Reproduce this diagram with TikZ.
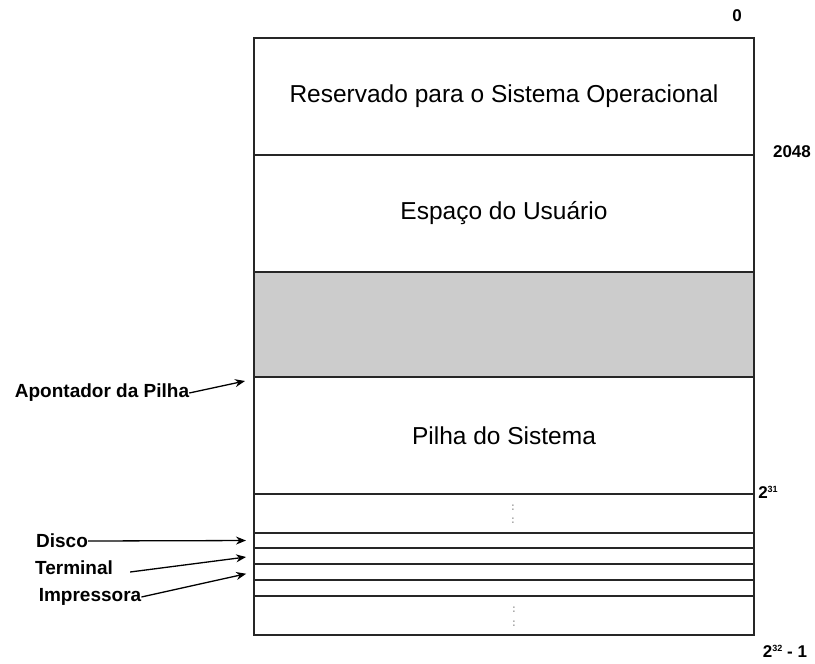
\documentclass[tikz,border=0pt]{standalone}
\usepackage{fontspec}
\setmainfont{Liberation Sans}
\usetikzlibrary{arrows.meta, positioning, calc}

\begin{document}
\begin{tikzpicture}[
  x=1pt, y=-1pt,
  node distance=0pt,
  region/.style={rectangle, draw=black!85, line width=1.3pt, inner sep=0pt, outer sep=0pt, minimum width=500pt, font=\fontsize{24.5}{27}\selectfont},
  slot/.style={region, line width=1.9pt},
  addr/.style={inner sep=0pt, font=\fontsize{17}{19}\selectfont\bfseries},
  device/.style={inner sep=0pt, font=\fontsize{19}{21}\selectfont\bfseries},
  colon/.style={inner sep=0pt, text=gray!70, font=\fontsize{11}{11}\selectfont\bfseries},
  arrow/.style={line width=1.3pt, -{Stealth[length=10pt, width=8pt]}}
]
  \useasboundingbox (0,0) rectangle (815,664);

  % Mapa de memoria
  \node (reserved) [region, minimum height=117pt, anchor=north] at (504,38) {Reservado para o Sistema Operacional};
  \node (user) [region, minimum height=117pt, below=of reserved] {Espaço do Usuário};
  \node (free) [region, minimum height=105pt, fill=gray!40, below=of user] {};
  \node (stack) [region, minimum height=117pt, below=of free] {Pilha do Sistema};
  \node (gapA) [region, minimum height=39pt, below=of stack] {};
  \node (disk) [slot, minimum height=15pt, below=of gapA] {};
  \node (term) [slot, minimum height=16pt, below=of disk] {};
  \node (prnt) [slot, minimum height=16pt, below=of term] {};
  \node (spare) [region, minimum height=16pt, below=of prnt] {};
  \node (gapB) [region, minimum height=39pt, below=of spare] {};
  \node [colon] at ($(gapA.center)+(9,-6)$) {:};
  \node [colon] at ($(gapA.center)+(9,7)$) {:};
  \node [colon] at ($(gapB.center)+(10,-6)$) {:};
  \node [colon] at ($(gapB.center)+(10,8)$) {:};

  % Enderecos
  \node (a0) [addr] at (737,16) {0};
  \node (a2048) [addr] at (792,152) {2048};
  \node (a31) [addr] at (768,492) {2{\fontsize{9}{9}\selectfont\raisebox{6pt}{31}}};
  \node (a32) [addr] at (785,651) {2{\fontsize{9}{9}\selectfont\raisebox{6pt}{32}} - 1};

  % Dispositivos
  \node (sp) [device] at (102,393) {Apontador da Pilha};
  \node (dsk) [device] at (62,541) {Disco};
  \node (trm) [device] at (74,568) {Terminal};
  \node (imp) [device] at (90,597) {Impressora};

  % Setas
  \draw [arrow] (sp.east) -- ($(stack.north west)+(-9,4)$);
  \draw [arrow, shorten >=8pt] (dsk.east) -- (disk.west);
  \draw [arrow, shorten >=8pt] ($(trm.east)+(17,4)$) -- (term.west);
  \draw [arrow, shorten >=8pt] (imp.east) -- (prnt.west);

\end{tikzpicture}
\end{document}
